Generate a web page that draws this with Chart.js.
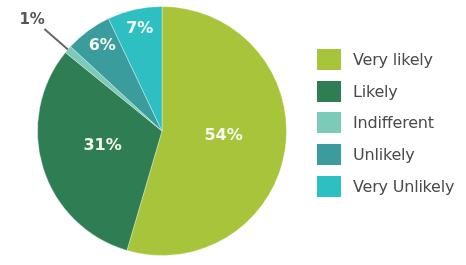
<!DOCTYPE html>
<html>
<head>
<meta charset="utf-8">
<script src="https://cdn.jsdelivr.net/npm/chart.js@4"></script>
<style>
  html, body { margin: 0; padding: 0; background: #fff; }
  #wrap { position: relative; width: 466px; height: 265px; }
  #legend { position: absolute; left: 317px; top: 49px; font-family: "DejaVu Sans", Verdana, sans-serif; font-size: 16px; color: #4a4a4a; letter-spacing: -0.2px; }
  #legend div { height: 21px; margin-bottom: 10.7px; display: flex; align-items: center; }
  #legend span.box { width: 24px; height: 21px; margin-right: 12px; display: inline-block; }
</style>
</head>
<body>
<div id="wrap">
  <canvas id="pie" width="466" height="265"></canvas>
  <div id="legend"></div>
</div>
<script>
const categorias = ["Very likely", "Likely", "Indifferent", "Unlikely", "Very Unlikely"];
const valores = [54, 31, 1, 6, 7];
const colores = ["#a7c43a", "#2f7d52", "#7ccbb8", "#3a9c9c", "#2dbfc2"];

// Etiquetas de porcentaje: dentro de la porción, o fuera con línea si es muy pequeña
const etiquetasPlugin = {
  id: "etiquetas",
  afterDatasetsDraw(chart) {
    const ctx = chart.ctx;
    const total = valores.reduce((a, b) => a + b, 0);
    chart.getDatasetMeta(0).data.forEach((arc, i) => {
      const { x, y, startAngle, endAngle, outerRadius } = arc.getProps(["x", "y", "startAngle", "endAngle", "outerRadius"], true);
      const mid = (startAngle + endAngle) / 2;
      const frac = valores[i] / total;
      const txt = valores[i] + "%";
      ctx.save();
      ctx.textAlign = "center";
      ctx.textBaseline = "middle";
      if (frac < 0.03) {
        ctx.strokeStyle = "#666";
        ctx.lineWidth = 2;
        ctx.beginPath();
        ctx.moveTo(x + Math.cos(mid) * outerRadius, y + Math.sin(mid) * outerRadius);
        ctx.lineTo(x + Math.cos(mid) * outerRadius * 1.25, y + Math.sin(mid) * outerRadius * 1.25);
        ctx.stroke();
        ctx.fillStyle = "#555";
        ctx.font = "bold 15px 'DejaVu Sans', Verdana, sans-serif";
        ctx.fillText(txt, x + Math.cos(mid) * outerRadius * 1.38, y + Math.sin(mid) * outerRadius * 1.38 + 2);
      } else {
        const r = frac < 0.1 ? outerRadius * 0.81 : outerRadius * 0.5;
        ctx.fillStyle = "#f4f8ee";
        ctx.font = "bold 16px 'DejaVu Sans', Verdana, sans-serif";
        ctx.fillText(txt, x + Math.cos(mid) * r, y + Math.sin(mid) * r - 4);
      }
      ctx.restore();
    });
  },
};

const chart = new Chart(document.getElementById("pie"), {
  type: "pie",
  data: {
    labels: categorias,
    datasets: [
      {
        data: valores,
        backgroundColor: colores,
        borderColor: "rgba(255,255,255,0.35)",
        borderWidth: 1,
      },
    ],
  },
  options: {
    responsive: false,
    animation: false,
    layout: { padding: { left: 37, right: 179, top: 6, bottom: 9 } },
    plugins: {
      legend: { display: false },
      tooltip: { enabled: false },
    },
  },
  plugins: [etiquetasPlugin],
});

// Leyenda en HTML
const leyenda = document.getElementById("legend");
categorias.forEach((c, i) => {
  const fila = document.createElement("div");
  fila.innerHTML = `<span class="box" style="background:${colores[i]}"></span>${c}`;
  leyenda.appendChild(fila);
});
</script>
</body>
</html>
